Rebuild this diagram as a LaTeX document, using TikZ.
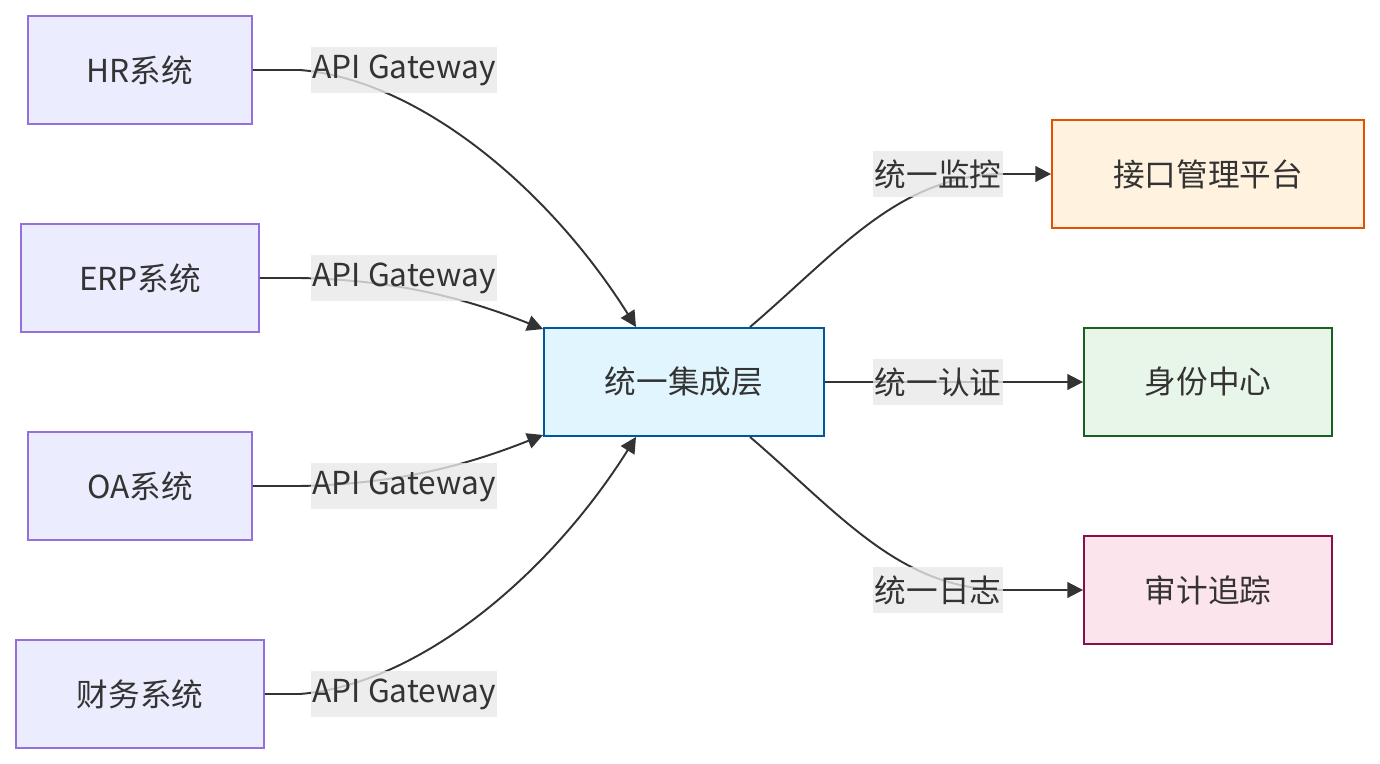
\documentclass[tikz,border=0pt]{standalone}
\usepackage{fontspec}
\newfontfamily\cjk{Noto Sans CJK SC}
\usetikzlibrary{arrows.meta,calc}
\definecolor{ink}{HTML}{333333}
\definecolor{sysfill}{HTML}{ECECFF}
\definecolor{sysline}{HTML}{9370DB}
\definecolor{corefill}{HTML}{E1F5FE}
\definecolor{coreline}{HTML}{01579B}
\definecolor{monfill}{HTML}{FFF3E0}
\definecolor{monline}{HTML}{E65100}
\definecolor{idfill}{HTML}{E8F5E9}
\definecolor{idline}{HTML}{1B5E20}
\definecolor{audfill}{HTML}{FCE4EC}
\definecolor{audline}{HTML}{880E4F}
\definecolor{lblgray}{HTML}{E8E8E8}
\begin{document}
\begin{tikzpicture}[x=0.02cm,y=-0.02cm,
  font=\cjk\fontsize{18pt}{22pt}\selectfont, text=ink,
  box/.style={draw, rectangle, line width=1.1pt, minimum height=2.16cm},
  sys/.style={box, draw=sysline, fill=sysfill},
  lbl/.style={fill=lblgray, fill opacity=0.8, text opacity=1, inner xsep=0.03cm, inner ysep=0, minimum height=0.92cm},
  link/.style={draw=ink, line width=1.1pt, -{Triangle[length=9pt,width=9pt]}}]
\useasboundingbox (0,0) rectangle (1380,764);
\node[sys, minimum width=4.48cm] (hr) at (140,70) {HR系统};
\node[sys, minimum width=4.76cm] (erp) at (140,278) {ERP系统};
\node[sys, minimum width=4.48cm] (oa) at (140,486) {OA系统};
\node[sys, minimum width=4.96cm] (fin) at (140,694) {财务系统};
\node[box, draw=coreline, fill=corefill, minimum width=5.6cm] (core) at (684,382) {统一集成层};
\node[box, draw=monline, fill=monfill, minimum width=6.24cm] (mon) at (1208,174) {接口管理平台};
\node[box, draw=idline, fill=idfill, minimum width=4.96cm] (idc) at (1208,382) {身份中心};
\node[box, draw=audline, fill=audfill, minimum width=4.96cm] (aud) at (1208,590) {审计追踪};
\draw[link] (hr.east) -- (300,70) .. controls (420,80) and (550,190) .. ($(core.north)+(-48,0)$);
\draw[link] (erp.east) -- (300,278) .. controls (400,280) and (470,300) .. ($(core.north west)+(0,2)$);
\draw[link] (oa.east) -- (300,486) .. controls (400,484) and (470,464) .. ($(core.south west)+(0,-2)$);
\draw[link] (fin.east) -- (300,694) .. controls (420,684) and (550,574) .. ($(core.south)+(-48,0)$);
\draw[link] ($(core.north)+(66,0)$) .. controls (840,250) and (900,174) .. (1005,174) -- (mon.west);
\draw[link] (core.east) -- (idc.west);
\draw[link] ($(core.south)+(66,0)$) .. controls (840,514) and (900,590) .. (1005,590) -- (aud.west);
\node[lbl] (g1) at (404,70) {API Gateway};
\node[lbl] (g2) at (404,278) {API Gateway};
\node[lbl] (g3) at (404,486) {API Gateway};
\node[lbl] (g4) at (404,694) {API Gateway};
\node[lbl] (l1) at (938,174) {统一监控};
\node[lbl] (l2) at (938,382) {统一认证};
\node[lbl] (l3) at (938,590) {统一日志};
\end{tikzpicture}
\end{document}
